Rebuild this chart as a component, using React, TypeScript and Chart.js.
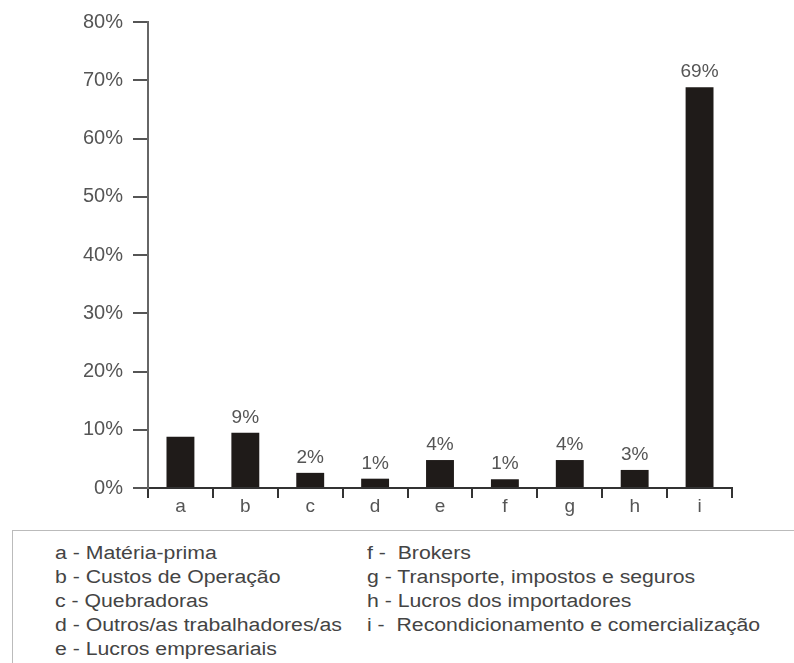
import React, { useEffect, useRef } from "react";
import { Chart, registerables } from "chart.js";

Chart.register(...registerables);

const categories = ["a", "b", "c", "d", "e", "f", "g", "h", "i"];
const values = [8.8, 9.5, 2.6, 1.6, 4.8, 1.5, 4.8, 3.1, 68.8];
const valueLabels = ["", "9%", "2%", "1%", "4%", "1%", "4%", "3%", "69%"];
const yTicks = [0, 10, 20, 30, 40, 50, 60, 70, 80];
const legendLeft = [
  "a - Matéria-prima",
  "b - Custos de Operação",
  "c - Quebradoras",
  "d - Outros/as trabalhadores/as",
  "e - Lucros empresariais",
];
const legendRight = [
  "f -  Brokers",
  "g - Transporte, impostos e seguros",
  "h - Lucros dos importadores",
  "i -  Recondicionamento e comercialização",
];

const FONT = "'Liberation Sans', Arial, sans-serif";

const barLabelPlugin = {
  id: "barLabels",
  afterDatasetsDraw(chart: any) {
    const ctx = chart.ctx;
    const meta = chart.getDatasetMeta(0);
    ctx.save();
    ctx.font = `19px ${FONT}`;
    ctx.fillStyle = "#555";
    ctx.textAlign = "center";
    ctx.textBaseline = "alphabetic";
    meta.data.forEach((bar: any, i: number) => {
      const t = valueLabels[i];
      if (t) ctx.fillText(t, bar.x, bar.y - 10);
    });
    ctx.restore();
  },
};

export default function App() {
  const ref = useRef<HTMLCanvasElement>(null);
  useEffect(() => {
    if (!ref.current) return;
    const chart = new Chart(ref.current, {
      type: "bar",
      data: {
        labels: categories,
        datasets: [
          {
            data: values,
            backgroundColor: "#1f1b19",
            barPercentage: 0.43,
            categoryPercentage: 1,
          },
        ],
      },
      options: {
        animation: false,
        responsive: false,
        layout: { padding: { top: 22, right: 62, left: 0, bottom: 0 } },
        plugins: { legend: { display: false }, tooltip: { enabled: false } },
        scales: {
          x: {
            offset: true,
            grid: {
              offset: true,
              drawOnChartArea: false,
              drawTicks: true,
              tickLength: 10,
              color: "#333",
              lineWidth: 2,
            },
            border: { display: true, color: "#333", width: 2 },
            ticks: {
              padding: -3,
              color: "#555",
              font: { family: FONT, size: 19 },
            },
            afterFit(scale: any) {
              scale.height = 37;
            },
          },
          y: {
            min: 0,
            max: 80,
            afterBuildTicks(scale: any) {
              scale.ticks = yTicks.map((v) => ({ value: v }));
            },
            grid: {
              drawOnChartArea: false,
              drawTicks: true,
              tickLength: 15,
              color: "#555",
              lineWidth: 2,
            },
            border: { display: true, color: "#666", width: 2 },
            ticks: {
              padding: 10,
              color: "#555",
              font: { family: FONT, size: 20 },
              callback: (v: any) => `${v}%`,
            },
            afterFit(scale: any) {
              scale.width = 148;
            },
          },
        },
      },
      plugins: [barLabelPlugin],
    });
    return () => chart.destroy();
  }, []);

  const lineStyle: React.CSSProperties = {
    height: 24,
    lineHeight: "24px",
    whiteSpace: "pre",
  };

  const colStyle: React.CSSProperties = {
    position: "absolute",
    top: 541,
    fontFamily: FONT,
    fontSize: 18,
    color: "#444",
    transform: "scaleX(1.18)",
    transformOrigin: "left top",
  };

  return (
    <div
      style={{
        position: "fixed",
        left: 0,
        top: 0,
        width: 794,
        height: 663,
        overflow: "hidden",
        background: "#fff",
      }}
    >
      <canvas ref={ref} width={794} height={525} style={{ position: "absolute", left: 0, top: 0 }} />
      <div
        style={{
          position: "absolute",
          left: 12,
          top: 530,
          width: 800,
          height: 200,
          borderTop: "1px solid #bbb",
          borderLeft: "1px solid #bbb",
        }}
      />
      <div style={{ ...colStyle, left: 55 }}>
        {legendLeft.map((t) => (
          <div key={t} style={lineStyle}>
            {t}
          </div>
        ))}
      </div>
      <div style={{ ...colStyle, left: 367 }}>
        {legendRight.map((t) => (
          <div key={t} style={lineStyle}>
            {t}
          </div>
        ))}
      </div>
    </div>
  );
}
